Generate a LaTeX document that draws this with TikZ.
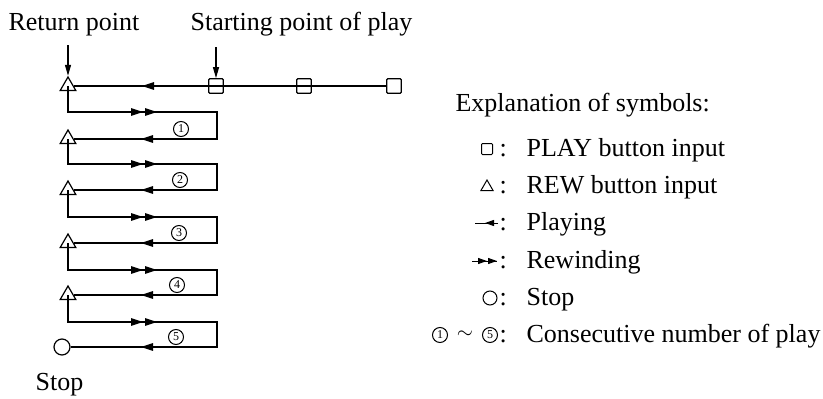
\documentclass[tikz,border=0pt]{standalone}
\usepackage{fontspec}
\setmainfont{Liberation Serif}
\usetikzlibrary{arrows.meta,decorations.markings,shapes.geometric}
\begin{document}
\begin{tikzpicture}[x=1pt,y=-1pt,line width=1.2pt,
  >={Triangle[length=12pt,width=7.5pt]},
  lbl/.style={font=\fontsize{26}{30}\selectfont, inner sep=0, anchor=base west},
  rewsym/.style={regular polygon, regular polygon sides=3, draw, inner sep=0, minimum size=18pt},
  playsym/.style={rectangle, draw, inner sep=0, minimum size=14.5pt, rounded corners=1pt},
  stopsym/.style={circle, draw, inner sep=0, minimum size=16pt},
  numsym/.style={circle, draw, inner sep=0, minimum size=15pt, line width=1pt, font=\fontsize{12}{12}\selectfont},
  downarrow/.style={-{Triangle[length=11pt,width=6pt]}},
  playmark/.style={postaction={decorate,decoration={markings,mark=at position #1 with {\arrow{>}}}}},
  rewmark/.style 2 args={postaction={decorate,decoration={markings,mark=at position #1 with {\arrow{>}},mark=at position #2 with {\arrow{>}}}}},
]
\useasboundingbox (0,0) rectangle (823,399);

% header labels
\node[lbl] (rp) at (8,30) {Return point};
\node[lbl] (sp) at (190,30) {Starting point of play};

% main line
\node[rewsym] (t0) at (68,86) {};
\node[playsym] (s1) at (216,86) {};
\node[playsym] (s2) at (304,86) {};
\node[playsym] (s3) at (394,86) {};
\coordinate (ra) at (68,45);
\coordinate (sa) at (216,47);
\draw[downarrow] (ra) -- (t0.north);
\draw[downarrow] (sa) -- (s1.north);
\draw (s3) -- (s1.center);
\draw[playmark=74pt] (s1.center) -- (t0);

% REW points and stop
\node[rewsym] (t1) at (68,139) {};
\node[rewsym] (t2) at (68,190) {};
\node[rewsym] (t3) at (68,243) {};
\node[rewsym] (t4) at (68,295) {};
\node[stopsym] (o) at (62,347) {};
\node[lbl] (st) at (35,390) {Stop};

% loops
\foreach \prev/\i/\r/\p/\nx/\d in {t0/t1/112/139/181/1, t1/t2/164/190/180/2, t2/t3/217/243/179/3, t3/t4/270/295/177/4, t4/o/322/347/176/5}{
  \coordinate (a\i) at (68,\r);
  \coordinate (b\i) at (217,\r);
  \coordinate (c\i) at (217,\p);
  \draw (\prev.center) -- (a\i) -- (b\i) -- (c\i) -- (\i);
  \draw[rewmark={75pt}{89pt}] (a\i) -- (b\i);
  \draw[playmark=76pt] (c\i) -- (\i);
  \node[numsym] (n\i) at (\nx,\p-10) {\d};
}

% legend
\node[lbl] (ex) at (455,111) {Explanation of symbols:};
\node[playsym, minimum size=11pt, line width=1pt] (g1) at (487,149) {};
\node[lbl] (k1) at (499,156) {:};
\node[lbl] (l1) at (526,156) {PLAY button input};

\node[rewsym, minimum size=14pt, line width=1pt] (g2) at (487,187) {};
\node[lbl] (k2) at (499,193) {:};
\node[lbl] (l2) at (526,193) {REW button input};

\coordinate (g3a) at (498,223);
\coordinate (g3b) at (475,223);
\draw[line width=1pt, >={Triangle[length=9pt,width=6pt]}, playmark=13pt] (g3a) -- (g3b);
\node[lbl] (k3) at (499,230) {:};
\node[lbl] (l3) at (526,230) {Playing};

\coordinate (g4a) at (472,261);
\coordinate (g4b) at (497,261);
\draw[line width=1pt, >={Triangle[length=9pt,width=6pt]}, rewmark={15pt}{25pt}] (g4a) -- (g4b);
\node[lbl] (k4) at (499,268) {:};
\node[lbl] (l4) at (526,268) {Rewinding};

\node[stopsym, minimum size=14pt, line width=1pt] (g5) at (490,298) {};
\node[lbl] (k5) at (499,305) {:};
\node[lbl] (l5) at (526,305) {Stop};

\node[numsym] (g6a) at (440,335) {1};
\node[font=\fontsize{22}{22}\selectfont, inner sep=0] (g6t) at (465,335) {$\sim$};
\node[numsym] (g6b) at (490,335) {5};
\node[lbl] (k6) at (499,342) {:};
\node[lbl] (l6) at (526,342) {Consecutive number of play};
\end{tikzpicture}
\end{document}
